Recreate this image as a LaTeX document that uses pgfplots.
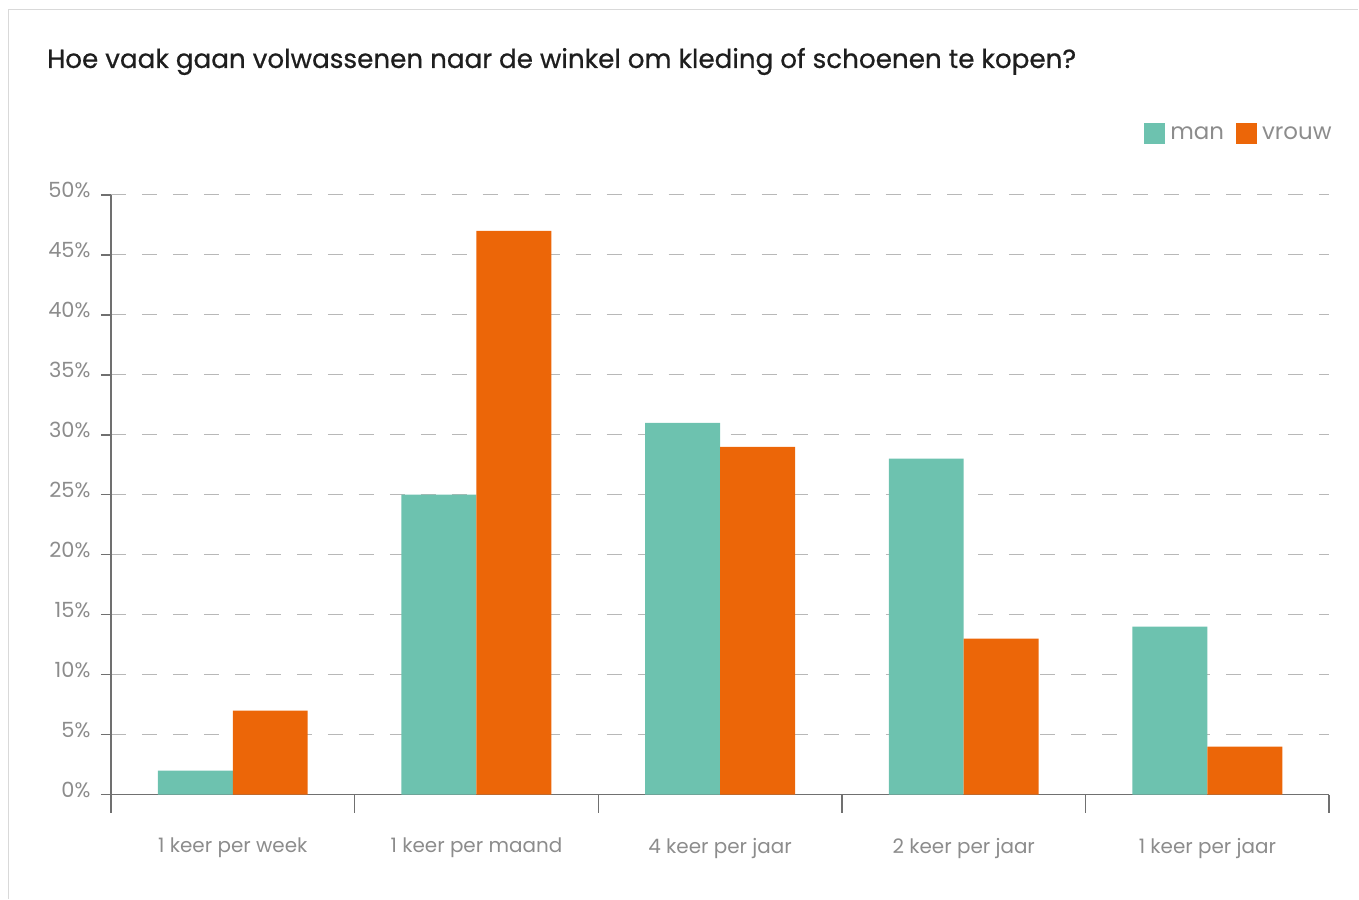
\documentclass[border=0pt]{standalone}
\usepackage{pgfplots}
\pgfplotsset{compat=1.18}
\usepackage{fontspec}
\setmainfont{Poppins}
\newfontfamily\titlefont{Poppins}[FakeBold=0.6]
\definecolor{man}{HTML}{6DC2AF}
\definecolor{vrouw}{HTML}{EC6608}
\definecolor{txt}{HTML}{8C8C8C}
\definecolor{ax}{HTML}{707070}
\definecolor{grd}{HTML}{B8B8B8}
\definecolor{ttl}{HTML}{1E1E1E}
\begin{document}
\begin{tikzpicture}
\begin{axis}[
 at={(0,0)}, anchor=south west,
 width=1219bp, height=600bp, scale only axis,
 xmin=0, xmax=5, ymin=0, ymax=50,
 axis x line*=bottom, axis y line*=left,
 axis line style={ax, line width=1.5bp},
 ytick={0,5,...,50},
 yticklabel={\pgfmathprintnumber{\tick}\%},
 /pgf/number format/assume math mode=true,
 ymajorgrids,
 grid style={grd, line width=1.2bp, dash pattern=on 15bp off 16bp},
 ytick style={ax, line width=1.5bp},
 major tick length=10bp,
 tick align=outside,
 xtick={0.5,1.5,2.5,3.5,4.5},
 xticklabels={1 keer per week, 1 keer per maand, 4 keer per jaar, 2 keer per jaar, 1 keer per jaar},
 xtick style={draw=none},
 extra x ticks={0,1,2,3,4,5},
 extra x tick labels={},
 extra x tick style={major tick length=18bp, xtick style={draw=ax, line width=1.5bp}, xmajorgrids=false},
 yticklabel style={txt, font=\fontsize{21}{25}\selectfont, xshift=-7bp, yshift=5bp},
 xticklabel style={txt, font=\fontsize{20}{24}\selectfont, yshift=-30bp},
 ybar, bar width=75bp,
 legend style={at={(1,1)}, anchor=north east, xshift=5bp, yshift=72bp, draw=none, fill=none, inner sep=0pt,
   font=\fontsize{23}{27}\selectfont, text=txt, nodes={inner sep=2.5bp},
   /tikz/every even column/.append style={column sep=9bp}},
 legend columns=2,
 legend image code/.code={\fill[#1] (0bp,-10.5bp) rectangle (21bp,10.5bp);},
]
\addplot[fill=man, draw=none, bar shift=-37.5bp] coordinates {(0.5,2) (1.5,25) (2.5,31) (3.5,28) (4.5,14)};
\addplot[fill=vrouw, draw=none, bar shift=37.5bp] coordinates {(0.5,7) (1.5,47) (2.5,29) (3.5,13) (4.5,4)};
\legend{\hspace{3bp}man, \hspace{3bp}vrouw}
\end{axis}
\node[anchor=base west, text=ttl, inner sep=0pt, font=\titlefont\fontsize{26.3}{31}\selectfont] at (-64bp,727bp) {Hoe vaak gaan volwassenen naar de winkel om kleding of schoenen te kopen?};
\draw[black!15, line width=1.5bp] (-102.5bp,-104bp) -- (-102.5bp,785.5bp) -- (1248bp,785.5bp);
\path[use as bounding box] (-111bp,-104bp) rectangle (1248bp,795bp);
\end{tikzpicture}
\end{document}
